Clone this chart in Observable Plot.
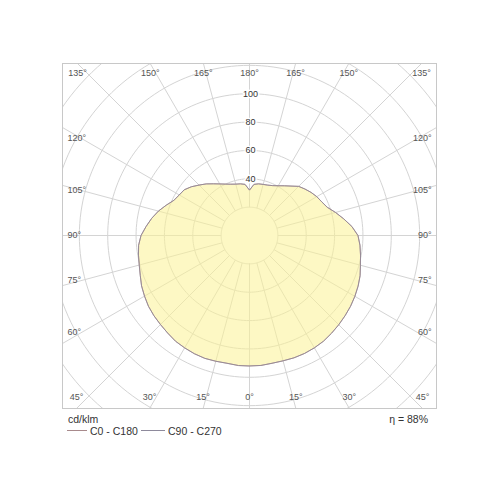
<!DOCTYPE html>
<html><head><meta charset="utf-8">
<script src="https://cdn.jsdelivr.net/npm/d3@7"></script>
<script src="https://cdn.jsdelivr.net/npm/@observablehq/plot@0.6"></script>
<style>
body{margin:0;background:#fff;font-family:"Liberation Sans",Arial,sans-serif;}
#wrap{position:relative;width:500px;height:500px;overflow:hidden;}
#chart svg{display:block;}
.lg{position:absolute;font-size:10.5px;line-height:12px;color:#333;white-space:nowrap;}
.sw{position:absolute;height:0;border-top:1px solid;}
</style></head><body>
<div id="wrap"><div id="chart"></div>
<div class="lg" id="unit" style="left:68px;top:413px;"></div>
<div class="sw" id="sw1" style="left:67px;top:430px;width:20px;"></div>
<div class="lg" id="t1" style="left:90px;top:425px;"></div>
<div class="sw" id="sw2" style="left:141px;top:430px;width:24px;"></div>
<div class="lg" id="t2" style="left:168px;top:425px;"></div>
<div class="lg" id="eta" style="right:72px;top:413px;"></div>
</div>
<script>
// ---- data ----
const angles = [0,5,10,15,20,25,30,35,40,45,50,55,60,65,70,75,80,85,90,95,100,105,110,115,120,125,130,135,140,145,150,155,160,165,170,175,180];
// C0 half (right side) and C180 half (left side), cd/klm
const intensityC0   = [92,92,91.5,91.5,91.8,91.8,91.5,91,90,89,88,87,85.8,84.5,83,81,79.5,78.2,76.5,72.5,67.5,62.8,58.3,56.2,54.8,53,51,49,45.5,42.8,40.5,38.8,37.8,37.3,37,36.2,32];
const intensityC180 = [92,92,91.5,91.8,92.2,92,91.5,91,89.8,88.8,88,87,85.5,84,82,80.5,79.5,78.5,76.5,73.2,70,66.5,62.5,58.8,57.2,56.2,53.5,50.3,47.5,44.5,42,40,38.5,37.5,37,36.2,32];
// C90 / C270 halves (coincide with C0 / C180 in the picture)
const intensityC90  = [92,92,91.5,91.5,91.8,91.8,91.5,91,90,89,88,87,85.8,84.5,83,81,79.5,78.2,76.5,72.5,67.5,62.8,58.3,56.2,54.8,53,51,49,45.5,42.8,40.5,38.8,37.8,37.3,37,36.2,32];
const intensityC270 = [92,92,91.5,91.8,92.2,92,91.5,91,89.8,88.8,88,87,85.5,84,82,80.5,79.5,78.5,76.5,73.2,70,66.5,62.5,58.8,57.2,56.2,53.5,50.3,47.5,44.5,42,40,38.5,37.5,37,36.2,32];
const ringValues = [20,40,60,80,100,120,140,160,180];
const ringLabels = [40,60,80,100];
const spokeAngles = [0,15,30,45,60,75,90,105,120,135,150,165,180,195,210,225,240,255,270,285,300,315,330,345];
const angleLabels = [0,15,30,45,60,75,90,105,120,135,150,165,180];
const seriesNames = ["C0 - C180","C90 - C270"];
const unitLabel = "cd/klm";
const efficiency = "\u03b7 =  88%";

// ---- geometry helpers ----
const k = 1.418; // px per cd/klm
const X = 187/k, YT = 172/k, YB = 173/k;
const rad = d => d*Math.PI/180;
const px = (r,phi) => r*Math.sin(rad(phi));
const py = (r,phi) => -r*Math.cos(rad(phi));

function closedCurve(right, left){
  const pts = [];
  angles.forEach((a,i)=>pts.push({x:px(right[i],a), y:py(right[i],a)}));
  for(let i=angles.length-2;i>0;i--) pts.push({x:px(left[i],-angles[i]), y:py(left[i],-angles[i])});
  return pts;
}
const curveA = closedCurve(intensityC0, intensityC180);
const curveB = closedCurve(intensityC90, intensityC270);

const ringPts = ringValues.flatMap(r => d3.range(0,361,2).map(a => ({r, x:px(r,a), y:py(r,a)})));

const labs = [];
angleLabels.forEach(a => { labs.push(a); if(a!==0 && a!==180) labs.push(-a); });
const labData = labs.map(phi => {
  const s = Math.sin(rad(phi)), c = -Math.cos(rad(phi));
  const ty = c>1e-9 ? YT/c : c<-1e-9 ? YB/(-c) : Infinity;
  const tx = Math.abs(s)>1e-9 ? X/Math.abs(s) : Infinity;
  const text = Math.abs(phi)+"\u00b0";
  if(ty<=tx) return {text, side: c>0?"top":"bottom", x:s*ty, y: c>0?YT:-YB};
  const t = (X-19/k)/Math.abs(s);
  return {text, side: s>0?"right":"left", x: s>0?X:-X, y:c*t};
});

const grid = "#d4d4d4";
const colA = "#a88a8c", colB = "#8e8a9c";
const lblStyle = {fill:"#555", fontSize:9};

const chart = Plot.plot({
  width:500, height:412,
  marginTop:63, marginLeft:62, marginRight:64, marginBottom:4,
  x:{domain:[-X,X], axis:null},
  y:{domain:[-YB,YT], axis:null},
  style:{fontFamily:"'Liberation Sans', Arial, sans-serif", background:"white"},
  marks:[
    Plot.line(ringPts, {x:"x", y:"y", z:"r", stroke:grid, strokeWidth:1, clip:true}),
    Plot.link(spokeAngles, {x1:a=>px(20,a), y1:a=>py(20,a), x2:a=>px(320,a), y2:a=>py(320,a), stroke:grid, strokeWidth:1, clip:true}),
    Plot.line(curveA, {x:"x", y:"y", curve:"linear-closed", fill:"#fbf393", fillOpacity:0.55, stroke:"none"}),
    Plot.line(curveA, {x:"x", y:"y", curve:"linear-closed", stroke:colA, strokeWidth:1}),
    Plot.line(curveB, {x:"x", y:"y", curve:"linear-closed", stroke:colB, strokeWidth:0.8, strokeOpacity:0.8}),
    Plot.frame({stroke:"#c8c8c8"}),
    Plot.text(labData.filter(d=>d.side==="top"), {x:"x", y:"y", text:"text", dy:10, ...lblStyle}),
    Plot.text(labData.filter(d=>d.side==="bottom"), {x:"x", y:"y", text:"text", dy:-11, ...lblStyle}),
    Plot.text(labData.filter(d=>d.side==="left"), {x:"x", y:"y", text:"text", dx:5, textAnchor:"start", ...lblStyle}),
    Plot.text(labData.filter(d=>d.side==="right"), {x:"x", y:"y", text:"text", dx:-5, textAnchor:"end", ...lblStyle}),
    Plot.text(ringLabels, {x:0, y:d=>d, text:d=>String(d), dx:1, fill:"#333", fontSize:9, stroke:"white", strokeWidth:3, paintOrder:"stroke"})
  ]
});
document.getElementById("chart").append(chart);
document.getElementById("unit").textContent = unitLabel;
document.getElementById("t1").textContent = seriesNames[0];
document.getElementById("t2").textContent = seriesNames[1];
document.getElementById("sw1").style.borderColor = colA;
document.getElementById("sw2").style.borderColor = colB;
document.getElementById("eta").textContent = efficiency;
</script>
</body></html>
